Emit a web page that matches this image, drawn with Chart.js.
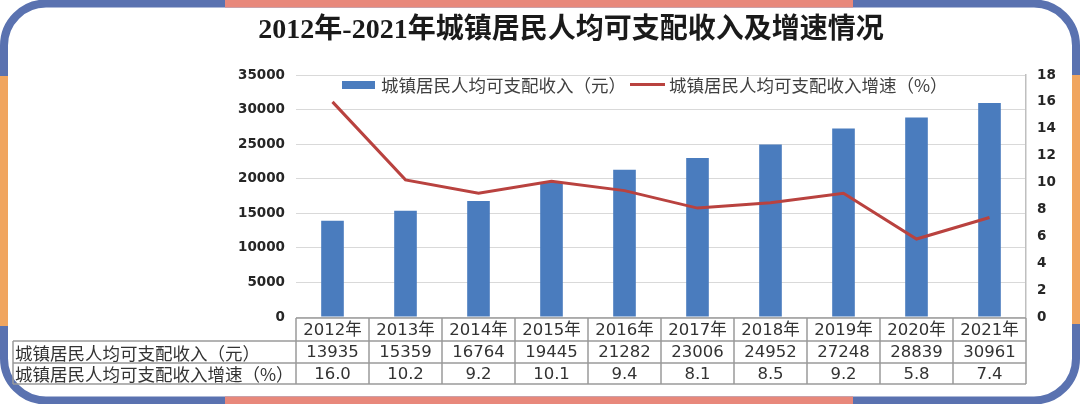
<!DOCTYPE html>
<html>
<head>
<meta charset="utf-8">
<script src="https://cdn.jsdelivr.net/npm/chart.js@4.4.0/dist/chart.umd.min.js"></script>
<style>
  html, body { margin: 0; padding: 0; background: #ffffff; }
  #wrap { position: relative; width: 1080px; height: 404px; }
  canvas { display: block; }
</style>
</head>
<body>
<div id="wrap"><canvas id="c" width="1080" height="404"></canvas></div>
<script>
const titleText = '2012年-2021年城镇居民人均可支配收入及增速情况';
const categories = ['2012年', '2013年', '2014年', '2015年', '2016年', '2017年', '2018年', '2019年', '2020年', '2021年'];
const incomeLabel = '城镇居民人均可支配收入（元）';
const growthLabel = '城镇居民人均可支配收入增速（%）';
const incomeValues = [13935, 15359, 16764, 19445, 21282, 23006, 24952, 27248, 28839, 30961];
const growthValues = [16.0, 10.2, 9.2, 10.1, 9.4, 8.1, 8.5, 9.2, 5.8, 7.4];
const leftTicks = { min: 0, max: 35000, step: 5000 };
const rightTicks = { min: 0, max: 18, step: 2 };

const BLUE = '#5a72b0', PINK = '#e8887b', ORANGE = '#f0a55f';
const BAR = '#4a7cbe', LINE = '#b9423f';
const CJK = '"Noto Sans CJK SC", "Noto Sans", sans-serif';

function roundRectPath(ctx, x, y, w, h, r) {
  ctx.beginPath();
  ctx.moveTo(x + r, y);
  ctx.lineTo(x + w - r, y);
  ctx.arcTo(x + w, y, x + w, y + r, r);
  ctx.lineTo(x + w, y + h - r);
  ctx.arcTo(x + w, y + h, x + w - r, y + h, r);
  ctx.lineTo(x + r, y + h);
  ctx.arcTo(x, y + h, x, y + h - r, r);
  ctx.lineTo(x, y + r);
  ctx.arcTo(x, y, x + r, y, r);
  ctx.closePath();
}

const framePlugin = {
  id: 'frame',
  beforeDraw(chart) {
    const ctx = chart.ctx;
    ctx.save();
    ctx.fillStyle = '#ffffff';
    ctx.fillRect(0, 0, chart.width, chart.height);
    ctx.restore();
  },
  afterDraw(chart) {
    const ctx = chart.ctx;
    const W = chart.width, H = chart.height;
    const drawFrame = (color, clip) => {
      ctx.save();
      if (clip) { ctx.beginPath(); clip.forEach(r => ctx.rect(r[0], r[1], r[2], r[3])); ctx.clip(); }
      roundRectPath(ctx, 4, 3.5, W - 8, H - 7, 42);
      ctx.lineWidth = 8;
      ctx.strokeStyle = color;
      ctx.stroke();
      ctx.restore();
    };
    drawFrame(BLUE, null);
    drawFrame(PINK, [[225, 0, 628, 14], [225, H - 14, 628, 14]]);
    drawFrame(ORANGE, [[0, 76, 14, 250], [W - 14, 75, 14, 249]]);

    // title
    ctx.save();
    ctx.fillStyle = '#1a1a1a';
    ctx.font = 'bold 28px "Liberation Serif", ' + CJK;
    ctx.textAlign = 'center';
    ctx.textBaseline = 'middle';
    ctx.fillText(titleText, 571, 31);
    ctx.restore();
  }
};

const legendPlugin = {
  id: 'customLegend',
  afterDatasetsDraw(chart) {
    const ctx = chart.ctx;
    const ds = chart.data.datasets;
    ctx.save();
    ctx.font = '17.5px ' + CJK;
    ctx.textBaseline = 'middle';
    ctx.textAlign = 'left';
    const y = 85;
    ctx.fillStyle = ds[0].backgroundColor;
    ctx.fillRect(342, 81, 33, 8);
    ctx.fillStyle = '#404040';
    ctx.fillText(ds[0].label, 381, y);
    ctx.strokeStyle = ds[1].borderColor;
    ctx.lineWidth = 3;
    ctx.beginPath(); ctx.moveTo(630, 84.5); ctx.lineTo(665, 84.5); ctx.stroke();
    ctx.fillText(ds[1].label, 669, y);
    ctx.restore();
  }
};

const tablePlugin = {
  id: 'dataTable',
  afterDraw(chart) {
    const ctx = chart.ctx;
    const xs = chart.scales.x;
    const area = chart.chartArea;
    const n = categories.length;
    const cw = (area.right - area.left) / n;
    const rows = [area.bottom + 1, area.bottom + 24, area.bottom + 46, area.bottom + 67];
    const labelLeft = 13;
    ctx.save();
    ctx.strokeStyle = '#9a9a9a';
    ctx.lineWidth = 1.5;
    ctx.beginPath();
    ctx.moveTo(area.left, rows[0]); ctx.lineTo(area.right, rows[0]);
    for (let r = 1; r < 4; r++) { ctx.moveTo(labelLeft, rows[r]); ctx.lineTo(area.right, rows[r]); }
    for (let i = 0; i <= n; i++) {
      const x = area.left + i * cw;
      ctx.moveTo(x, rows[0]); ctx.lineTo(x, rows[3]);
    }
    ctx.moveTo(labelLeft, rows[1]); ctx.lineTo(labelLeft, rows[3]);
    ctx.stroke();

    ctx.fillStyle = '#333333';
    ctx.textBaseline = 'middle';
    ctx.textAlign = 'center';
    ctx.font = '16.5px "DejaVu Sans", ' + CJK;
    for (let i = 0; i < n; i++) {
      const cx = xs.getPixelForValue(i);
      ctx.fillText(categories[i], cx, (rows[0] + rows[1]) / 2 + 1);
      ctx.fillText(String(incomeValues[i]), cx, (rows[1] + rows[2]) / 2 + 1);
      ctx.fillText(growthValues[i].toFixed(1), cx, (rows[2] + rows[3]) / 2 + 1);
    }
    ctx.textAlign = 'left';
    ctx.font = '17.5px ' + CJK;
    ctx.fillText(incomeLabel, labelLeft + 2, (rows[1] + rows[2]) / 2 + 1);
    ctx.fillText(growthLabel, labelLeft + 2, (rows[2] + rows[3]) / 2 + 1);
    ctx.restore();
  }
};

const tickFont = { family: 'DejaVu Sans', size: 13.5, weight: 'bold' };

new Chart(document.getElementById('c'), {
  data: {
    labels: categories,
    datasets: [
      {
        type: 'bar',
        label: incomeLabel,
        data: incomeValues,
        backgroundColor: BAR,
        yAxisID: 'y',
        barPercentage: 0.31,
        categoryPercentage: 1.0,
        order: 2
      },
      {
        type: 'line',
        label: growthLabel,
        data: growthValues,
        borderColor: LINE,
        backgroundColor: LINE,
        borderWidth: 3,
        pointRadius: 0,
        tension: 0,
        yAxisID: 'y1',
        order: 1
      }
    ]
  },
  options: {
    responsive: false,
    animation: false,
    devicePixelRatio: 1,
    layout: { padding: { left: 0, right: 0, top: 75, bottom: 87 } },
    plugins: {
      legend: { display: false },
      title: { display: false },
      tooltip: { enabled: false }
    },
    scales: {
      x: { display: false, offset: true },
      y: {
        position: 'left',
        min: leftTicks.min, max: leftTicks.max,
        ticks: { stepSize: leftTicks.step, padding: 11, color: '#262626', font: tickFont, callback: v => String(v) },
        grid: { color: '#d9d9d9', lineWidth: 1, drawTicks: false },
        border: { display: false },
        afterFit(s) { s.width = 296; }
      },
      y1: {
        position: 'right',
        min: rightTicks.min, max: rightTicks.max,
        ticks: { stepSize: rightTicks.step, padding: 11, color: '#262626', font: tickFont, callback: v => String(v) },
        grid: { display: false, drawTicks: false },
        border: { display: true, color: '#bfbfbf', width: 1.5 },
        afterFit(s) { s.width = 54; }
      }
    }
  },
  plugins: [framePlugin, legendPlugin, tablePlugin]
});
</script>
</body>
</html>
